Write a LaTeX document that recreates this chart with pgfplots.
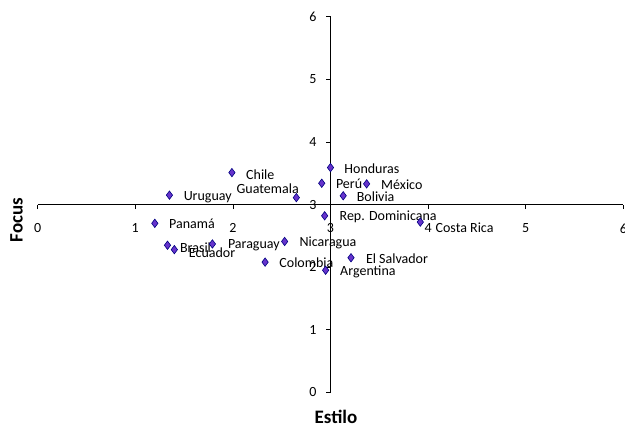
\documentclass[border=0pt]{standalone}
\usepackage{fontspec}
\setmainfont{Carlito}
\usepackage{pgfplots}
\usepackage{pgfplotstable}
\pgfplotsset{compat=1.18}

\definecolor{markfill}{HTML}{6633CC}
\definecolor{markline}{HTML}{000080}

% Estilo, Focus, label offset (bp) and country
\pgfplotstableread{
x     y     dx    dy    label
1.99  3.51  14    -1.7  Chile
1.35  3.15  14    -1.7  Uruguay
2.65  3.11  -60   9     Guatemala
3.00  3.59  13.6  -0.6  Honduras
2.91  3.34  14    -0.7  Perú
3.37  3.33  14.3  -1.3  México
3.13  3.14  13.3  -1    Bolivia
2.94  2.82  14.7  -1    {Rep. Dominicana}
3.92  2.72  15    -5.3  {Costa Rica}
2.53  2.41  14.7  -1.4  Nicaragua
2.33  2.08  14    -0.3  Colombia
3.21  2.15  14.7  -1.3  {El Salvador}
2.95  1.95  14.3  -1.4  Argentina
1.20  2.70  14    -0.3  Panamá
1.33  2.35  12.3  -2    Brasil
1.40  2.28  14.3  -2.6  Ecuador
1.79  2.37  15.3  -1.3  Paraguay
}\paises

\begin{document}
\begin{tikzpicture}
\begin{axis}[
    scale only axis,
    width=585.6bp, height=375.6bp,
    xmin=-3, xmax=3, ymin=-3, ymax=3,
    axis lines=middle,
    axis line style={-, black, line width=0.7bp},
    clip=false,
    xtick={-3,...,3}, xticklabels={0,1,2,3,4,5,6},
    ytick={-3,...,3}, yticklabels={0,1,2,3,4,5,6},
    hide obscured x ticks=false, hide obscured y ticks=false,
    tick align=outside,
    major tick length=4.5bp,
    tick style={black, line width=0.7bp},
    /pgf/number format/assume math mode=true,
    tick label style={font=\fontsize{14bp}{16bp}\selectfont},
    xticklabel style={anchor=north, yshift=-11bp},
    yticklabel style={anchor=east, xshift=-6bp},
    xlabel={Estilo}, ylabel={Focus},
    xlabel style={at={(axis description cs:0.5094,-0.0644)}, anchor=center,
        font=\fontsize{19bp}{22bp}\selectfont\bfseries},
    ylabel style={at={(axis description cs:-0.0362,0.4587)}, anchor=center,
        rotate=90, font=\fontsize{19bp}{22bp}\selectfont\bfseries},
]
\addplot[only marks, mark=diamond*, mark size=4.2bp,
    mark options={fill=markfill, draw=markline, line width=0.6bp},
    point meta=explicit symbolic,
    visualization depends on={\thisrow{dx}\as\dx},
    visualization depends on={\thisrow{dy}\as\dy},
    nodes near coords,
    every node near coord/.append style={anchor=west, inner sep=0pt,
        xshift=\dx bp, yshift=\dy bp, black,
        font=\fontsize{14bp}{16bp}\selectfont},
] table[x expr=\thisrow{x}-3, y expr=\thisrow{y}-3, meta=label] {\paises};
\coordinate (bl) at (axis cs:-3.386,-3.570);
\coordinate (tr) at (axis cs:3.017,3.267);
\end{axis}
\pgfresetboundingbox
\path (bl) rectangle (tr);
\end{tikzpicture}
\end{document}
